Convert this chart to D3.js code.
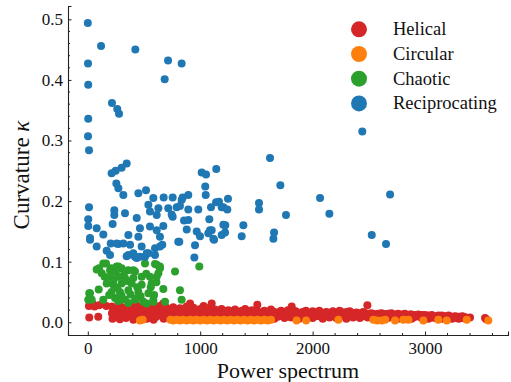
<!DOCTYPE html>
<html>
<head>
<meta charset="utf-8">
<script src="https://cdn.jsdelivr.net/npm/d3@7"></script>
<style>
  body { margin: 0; background: #fff; }
  svg, svg text { font-family: "Liberation Serif", "Times New Roman", serif; }
</style>
</head>
<body>
<div class="chart_wrapper"></div>
<script>
// categories, in legend / draw order
const categories = ["Helical", "Circular", "Chaotic", "Reciprocating"]
const colors = ["#d62728", "#ff7f0e", "#2ca02c", "#1f77b4"]

const xTicks = [0, 1000, 2000, 3000]
const yTicks = [0.0, 0.1, 0.2, 0.3, 0.4, 0.5]

// [power spectrum, curvature]
const helical = [
  [10, 0.027], [13, 0.008], [45, 0.030], [60, 0.026], [93, 0.009], [100, 0.028], [130, 0.030], [165, 0.027],
  [215, 0.026], [215, 0.015], [220, 0.006], [250, 0.022], [250, 0.010], [280, 0.028], [280, 0.017], [285, 0.005],
  [310, 0.024], [310, 0.012], [340, 0.020], [340, 0.007], [370, 0.027], [370, 0.015], [400, 0.023], [400, 0.010],
  [405, 0.004], [430, 0.029], [430, 0.018], [460, 0.021], [460, 0.008], [490, 0.026], [490, 0.013], [520, 0.030],
  [520, 0.018], [525, 0.006], [550, 0.024], [550, 0.011], [580, 0.028], [580, 0.016], [585, 0.004], [610, 0.022],
  [610, 0.009], [640, 0.027], [640, 0.014], [670, 0.031], [670, 0.019], [675, 0.006], [700, 0.024], [700, 0.011],
  [730, 0.020], [730, 0.008], [760, 0.025], [760, 0.014], [790, 0.018], [790, 0.006], [820, 0.023], [820, 0.012],
  [850, 0.019], [850, 0.008], [880, 0.026], [880, 0.015], [910, 0.031], [910, 0.020], [915, 0.007], [940, 0.024],
  [940, 0.012], [970, 0.018], [970, 0.006], [1000, 0.022], [1000, 0.013], [1030, 0.027], [1030, 0.009], [1060, 0.019],
  [1060, 0.014], [1090, 0.025], [1090, 0.007], [1102, 0.031], [1130, 0.021], [1130, 0.012], [1160, 0.017], [1160, 0.008],
  [1190, 0.022], [1190, 0.013], [1220, 0.018], [1220, 0.006], [1250, 0.020], [1250, 0.011], [1280, 0.016], [1280, 0.008],
  [1310, 0.021], [1310, 0.012], [1340, 0.017], [1340, 0.006], [1370, 0.019], [1370, 0.010], [1400, 0.022], [1400, 0.013],
  [1430, 0.016], [1430, 0.007], [1460, 0.020], [1460, 0.011], [1508, 0.029], [1508, 0.018], [1505, 0.009], [1540, 0.015],
  [1540, 0.006], [1570, 0.019], [1570, 0.011], [1600, 0.016], [1600, 0.008], [1630, 0.021], [1630, 0.012], [1660, 0.017],
  [1660, 0.006], [1690, 0.014], [1690, 0.009], [1720, 0.019], [1720, 0.011], [1750, 0.016], [1750, 0.007], [1780, 0.020],
  [1780, 0.012], [1814, 0.026], [1814, 0.015], [1810, 0.008], [1850, 0.018], [1850, 0.010], [1880, 0.014], [1880, 0.006],
  [1910, 0.017], [1910, 0.011], [1940, 0.019], [1940, 0.008], [1970, 0.015], [1970, 0.012], [2000, 0.018], [2000, 0.007],
  [2030, 0.016], [2030, 0.010], [2060, 0.019], [2060, 0.013], [2090, 0.015], [2090, 0.006], [2120, 0.017], [2120, 0.011],
  [2150, 0.014], [2150, 0.008], [2180, 0.018], [2180, 0.012], [2210, 0.016], [2210, 0.007], [2240, 0.019], [2240, 0.010],
  [2270, 0.015], [2270, 0.012], [2300, 0.017], [2300, 0.006], [2330, 0.018], [2330, 0.011], [2360, 0.014], [2360, 0.008],
  [2390, 0.016], [2390, 0.012], [2420, 0.015], [2420, 0.007], [2450, 0.017], [2450, 0.010], [2487, 0.028], [2487, 0.014],
  [2490, 0.008], [2520, 0.015], [2520, 0.011], [2550, 0.013], [2550, 0.006], [2580, 0.014], [2580, 0.010], [2610, 0.015],
  [2610, 0.008], [2640, 0.013], [2640, 0.011], [2670, 0.014], [2670, 0.007], [2700, 0.015], [2700, 0.011], [2730, 0.013],
  [2730, 0.009], [2760, 0.014], [2760, 0.006], [2790, 0.013], [2790, 0.010], [2820, 0.014], [2820, 0.008], [2850, 0.012],
  [2850, 0.010], [2880, 0.013], [2880, 0.006], [2910, 0.012], [2910, 0.009], [2940, 0.013], [2940, 0.010], [2970, 0.012],
  [2970, 0.007], [3000, 0.012], [3000, 0.009], [3030, 0.011], [3030, 0.006], [3060, 0.012], [3060, 0.008], [3090, 0.010],
  [3090, 0.007], [3120, 0.011], [3120, 0.009], [3150, 0.011], [3150, 0.006], [3180, 0.010], [3180, 0.008], [3210, 0.011],
  [3210, 0.007], [3240, 0.009], [3240, 0.006], [3270, 0.010], [3270, 0.008], [3300, 0.009], [3300, 0.006], [3330, 0.010],
  [3330, 0.007], [3360, 0.008], [3360, 0.006], [3400, 0.008], [3534, 0.007], [3545, 0.005],
  // second pass, in between the columns above
  [235, 0.019], [265, 0.013], [295, 0.021], [325, 0.009], [355, 0.024], [385, 0.019], [415, 0.013], [445, 0.025],
  [475, 0.016], [505, 0.021], [535, 0.014], [565, 0.020], [595, 0.025], [625, 0.017], [655, 0.022], [685, 0.013],
  [715, 0.018], [745, 0.022], [775, 0.010], [805, 0.016], [835, 0.021], [865, 0.013], [895, 0.022], [925, 0.016],
  [955, 0.019], [985, 0.011], [1015, 0.017], [1045, 0.022], [1075, 0.016], [1115, 0.018], [1145, 0.015], [1175, 0.020],
  [1205, 0.010], [1235, 0.015], [1265, 0.018], [1295, 0.010], [1325, 0.015], [1355, 0.013], [1385, 0.017], [1415, 0.019],
  [1445, 0.014], [1475, 0.017], [1490, 0.009], [1525, 0.012], [1555, 0.017], [1585, 0.013], [1615, 0.018], [1645, 0.010],
  [1675, 0.015], [1705, 0.017], [1735, 0.013], [1765, 0.017], [1795, 0.009], [1830, 0.019], [1865, 0.015], [1895, 0.008],
  [1925, 0.014], [1955, 0.016], [1985, 0.010], [2015, 0.014], [2045, 0.017], [2075, 0.009], [2105, 0.014], [2135, 0.016],
  [2165, 0.011], [2195, 0.015], [2225, 0.013], [2255, 0.017], [2285, 0.009], [2315, 0.014], [2345, 0.016], [2375, 0.010],
  [2405, 0.014], [2435, 0.012], [2465, 0.015], [2505, 0.012], [2535, 0.014], [2565, 0.009], [2595, 0.012], [2625, 0.014],
  [2655, 0.009], [2685, 0.013], [2715, 0.010], [2745, 0.012], [2775, 0.008], [2805, 0.012], [2835, 0.010], [2865, 0.013],
  [2895, 0.008], [2925, 0.011], [2955, 0.009], [2985, 0.011], [3015, 0.008], [3045, 0.010], [3075, 0.009], [3105, 0.008],
  [3135, 0.010], [3165, 0.008], [3195, 0.009], [3225, 0.008], [3255, 0.009], [3285, 0.007], [3315, 0.008], [3345, 0.009]
]

const circular = [
  [464, 0.003], [488, 0.004], [735, 0.004], [760, 0.003], [790, 0.004], [820, 0.003], [845, 0.004], [880, 0.003],
  [910, 0.004], [940, 0.003], [965, 0.004], [1000, 0.003], [1030, 0.004], [1060, 0.003], [1090, 0.004], [1120, 0.003],
  [1150, 0.004], [1180, 0.003], [1210, 0.004], [1240, 0.003], [1270, 0.004], [1300, 0.003], [1330, 0.004], [1360, 0.003],
  [1390, 0.004], [1420, 0.003], [1450, 0.004], [1480, 0.003], [1510, 0.004], [1540, 0.003], [1570, 0.004], [1600, 0.003],
  [1630, 0.004], [1858, 0.003], [1942, 0.003], [2229, 0.004], [2540, 0.004], [2575, 0.003], [2615, 0.003], [2646, 0.004],
  [2733, 0.003], [2807, 0.004], [2852, 0.004], [2985, 0.003], [3118, 0.004], [3193, 0.003], [3371, 0.004], [3563, 0.003]
]

const chaotic = [
  [13, 0.048], [4, 0.037], [20, 0.048], [35, 0.037], [97, 0.054], [100, 0.089], [79, 0.087], [124, 0.081],
  [138, 0.097], [162, 0.097], [198, 0.086], [212, 0.089], [257, 0.092], [272, 0.092], [301, 0.089], [361, 0.086],
  [405, 0.086], [420, 0.084], [509, 0.097], [598, 0.096], [613, 0.095], [642, 0.092], [642, 0.089], [628, 0.081],
  [613, 0.075], [776, 0.084], [992, 0.092], [198, 0.075], [272, 0.075], [331, 0.073], [405, 0.073], [479, 0.075],
  [553, 0.075], [168, 0.064], [227, 0.062], [301, 0.064], [390, 0.064], [479, 0.062], [568, 0.064], [212, 0.050],
  [286, 0.050], [361, 0.053], [450, 0.050], [539, 0.048], [672, 0.055], [820, 0.053], [138, 0.037], [242, 0.040],
  [331, 0.037], [420, 0.037], [494, 0.034], [583, 0.034], [687, 0.034], [835, 0.037], [524, 0.031], [583, 0.037],
  [250, 0.083], [320, 0.078], [350, 0.068], [440, 0.058], [260, 0.057], [190, 0.045], [300, 0.044], [380, 0.046],
  [470, 0.043], [230, 0.070], [150, 0.075], [520, 0.080], [560, 0.058], [610, 0.066], [590, 0.045], [270, 0.035],
  [360, 0.032], [440, 0.040]
]

const reciprocating = [
  [0, 0.494], [118, 0.456], [423, 0.450], [2, 0.427], [714, 0.432], [835, 0.427], [684, 0.401], [4, 0.392],
  [215, 0.362], [262, 0.352], [278, 0.344], [4, 0.336], [2, 0.307], [11, 0.284], [2442, 0.315], [1621, 0.271],
  [1713, 0.226], [2066, 0.205], [2689, 0.211], [1763, 0.177], [2149, 0.179], [1523, 0.197], [1523, 0.186], [1657, 0.148],
  [1651, 0.138], [2526, 0.144], [2653, 0.129],
  [346, 0.262], [301, 0.255], [248, 0.250], [212, 0.246], [1013, 0.247], [1052, 0.244], [1143, 0.253], [254, 0.229],
  [272, 0.221], [1045, 0.224], [518, 0.218], [450, 0.213], [316, 0.210], [583, 0.205], [675, 0.206], [755, 0.206],
  [835, 0.202], [894, 0.210], [844, 0.206], [1049, 0.210], [1247, 0.204], [1141, 0.198], [1167, 0.199], [1096, 0.190],
  [1191, 0.190], [1206, 0.190], [1241, 0.186], [820, 0.192], [791, 0.190], [894, 0.186], [983, 0.186], [755, 0.174],
  [746, 0.178], [716, 0.188], [1081, 0.170], [856, 0.168], [894, 0.169], [880, 0.153], [1384, 0.160], [1223, 0.160],
  [1206, 0.161], [969, 0.150], [1087, 0.152], [1102, 0.152], [1072, 0.147], [1221, 0.148], [1191, 0.144], [1369, 0.142],
  [998, 0.142], [1117, 0.138], [814, 0.133], [954, 0.127], [948, 0.107], [1123, 0.136],
  [11, 0.190], [4, 0.170], [4, 0.159], [20, 0.139], [79, 0.155], [138, 0.145], [79, 0.125], [168, 0.118],
  [198, 0.111], [236, 0.185], [236, 0.177], [221, 0.162], [331, 0.180], [204, 0.130], [272, 0.129], [257, 0.130],
  [316, 0.130], [361, 0.144], [376, 0.128], [346, 0.109], [361, 0.111], [435, 0.172], [464, 0.155], [450, 0.141],
  [479, 0.125], [420, 0.108], [405, 0.114], [509, 0.108], [464, 0.108], [435, 0.106], [539, 0.194], [553, 0.183],
  [628, 0.188], [613, 0.177], [553, 0.158], [613, 0.152], [672, 0.159], [642, 0.141], [663, 0.128], [642, 0.125],
  [598, 0.122], [598, 0.111], [539, 0.114], [524, 0.114], [805, 0.133], [20, 0.136]
]

const series = [helical, circular, chaotic, reciprocating]

const width = 511
const height = 382
const margin = { left: 68, right: 3, top: 6, bottom: 47 }
const serif = '"Liberation Serif", "Times New Roman", serif'

const x = d3.scaleLinear().domain([-176, 3738]).range([margin.left, width - margin.right])
const y = d3.scaleLinear().domain([-0.021, 0.522]).range([height - margin.bottom, margin.top])

const svg = d3.select('.chart_wrapper')
  .append('svg')
  .attr('width', width)
  .attr('height', height)
  .attr('font-family', serif)

// points
series.forEach((pts, i) => {
  svg.append('g')
    .selectAll('circle')
    .data(pts)
    .join('circle')
    .attr('cx', d => x(d[0]))
    .attr('cy', d => y(d[1]))
    .attr('r', 4)
    .attr('fill', colors[i])
})

// axes, ticks inward
const xMinor = d3.range(200, 3738, 200).filter(v => v % 1000 !== 0)
const yMinor = d3.range(1, 26).map(i => i * 0.02).filter((v, i) => (i + 1) % 5 !== 0)

const xAxis = svg.append('g').attr('transform', `translate(0,${height - margin.bottom})`)
xAxis.call(d3.axisBottom(x).tickValues(xTicks).tickSize(-3.5).tickPadding(7).tickFormat(d3.format('d')))
xAxis.append('g').selectAll('line').data(xMinor).join('line')
  .attr('x1', d => x(d)).attr('x2', d => x(d)).attr('y1', 0).attr('y2', -2)
  .attr('stroke', '#222')

const yAxis = svg.append('g').attr('transform', `translate(${margin.left},0)`)
yAxis.call(d3.axisLeft(y).tickValues(yTicks).tickSize(-3.5).tickPadding(5).tickFormat(d3.format('.1f')))
yAxis.append('g').selectAll('line').data(yMinor).join('line')
  .attr('y1', d => y(d)).attr('y2', d => y(d)).attr('x1', 0).attr('x2', 2)
  .attr('stroke', '#222')

svg.selectAll('.domain').attr('stroke', '#222').attr('stroke-width', 1.1)
svg.selectAll('.tick line').attr('stroke', '#222')
xAxis.attr('font-family', serif).attr('font-size', 17)
yAxis.attr('font-family', serif).attr('font-size', 17)
svg.selectAll('.tick text').attr('fill', '#111')

// axis labels
svg.append('text')
  .attr('x', (margin.left + width - margin.right) / 2)
  .attr('y', 378)
  .attr('text-anchor', 'middle')
  .attr('font-size', 22)
  .attr('fill', '#111')
  .text('Power spectrum')

svg.append('text')
  .attr('transform', `translate(29,175) rotate(-90)`)
  .attr('text-anchor', 'middle')
  .attr('font-size', 23)
  .attr('fill', '#111')
  .text('Curvature ')
  .append('tspan')
  .attr('font-style', 'italic')
  .text('κ')

// legend
const legend = svg.append('g').attr('font-size', 18.5)
categories.forEach((c, i) => {
  const cy = 29.3 + i * 24.7
  legend.append('circle').attr('cx', 359).attr('cy', cy).attr('r', 8).attr('fill', colors[i])
  legend.append('text').attr('x', 393).attr('y', cy + 6)
    .attr('fill', '#111').text(c)
})
</script>
</body>
</html>
